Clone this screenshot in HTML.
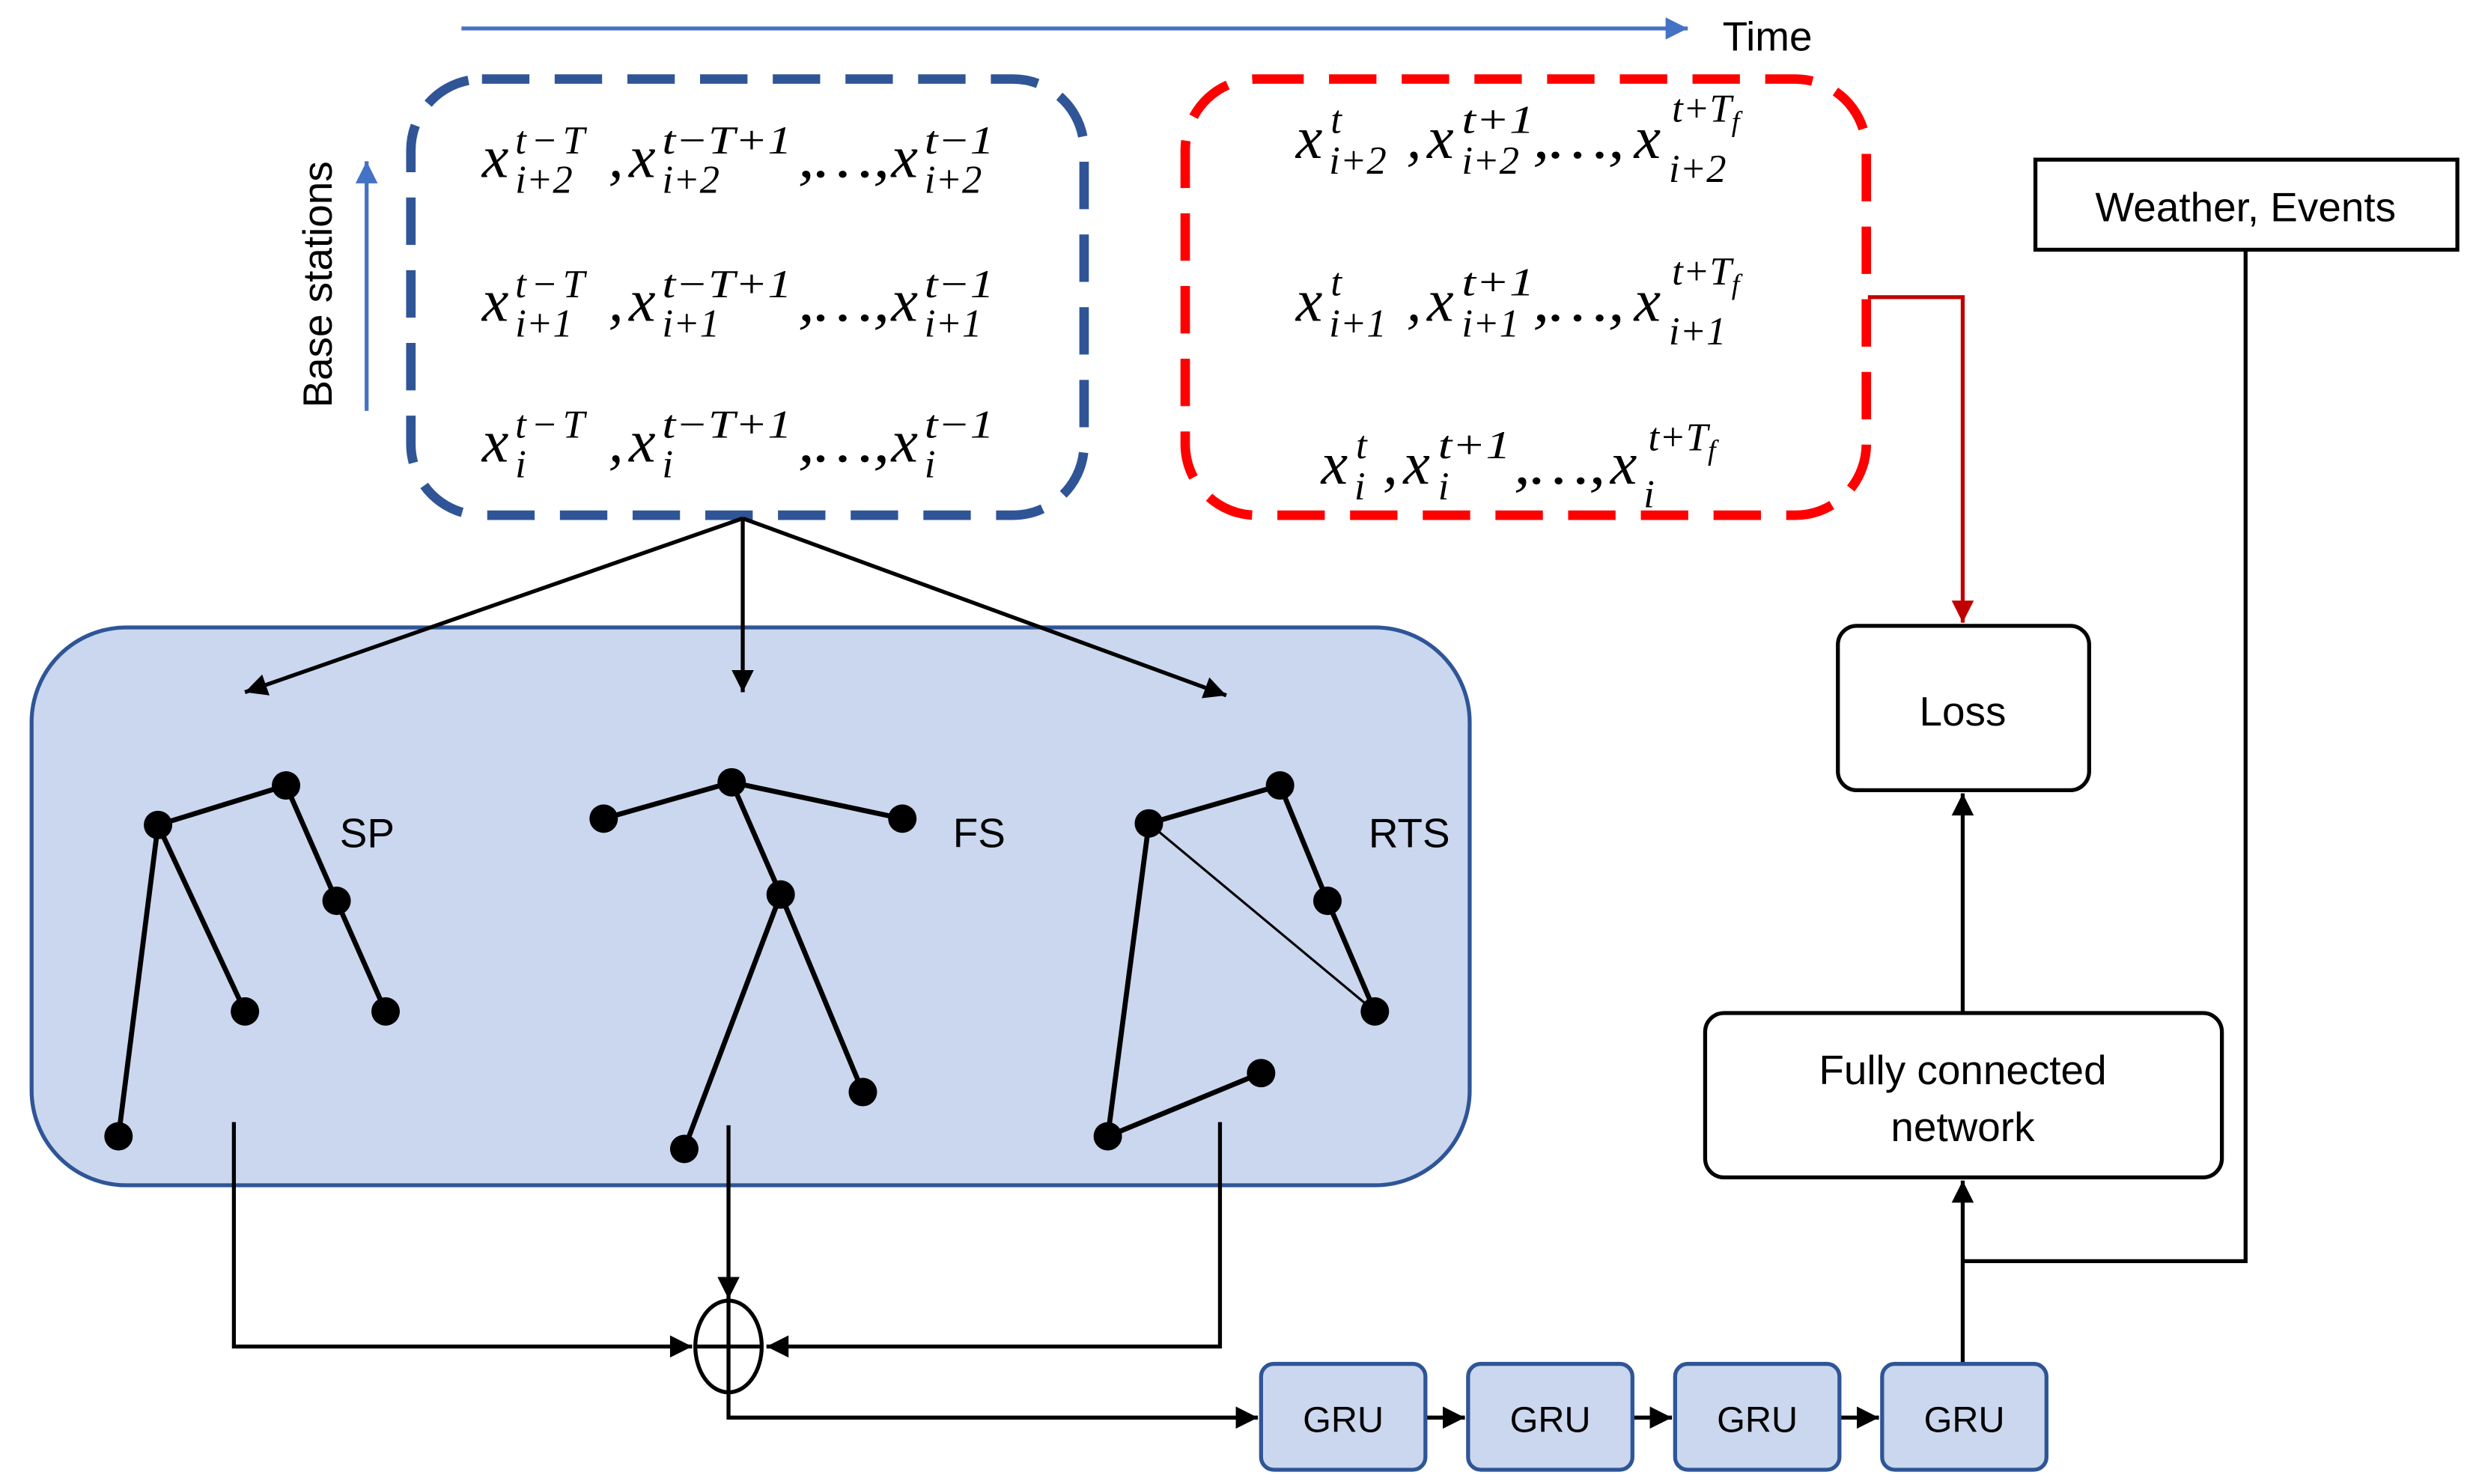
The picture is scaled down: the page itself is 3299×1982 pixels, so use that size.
<!DOCTYPE html>
<html><head><meta charset="utf-8"><style>
html,body{margin:0;padding:0;background:#fff;}
svg{display:block;}
.m{font-family:"Liberation Serif",serif;font-style:italic;fill:#000;}
.s{font-family:"Liberation Sans",sans-serif;fill:#000;}
</style></head><body>
<svg width="3299" height="1982" viewBox="0 0 1563 939" xmlns="http://www.w3.org/2000/svg">
<defs>
<marker id="ak" viewBox="0 0 10 10" markerWidth="16" markerHeight="14" refX="10" refY="5" orient="auto" markerUnits="userSpaceOnUse"><path d="M0,0 L10,5 L0,10 z" fill="#000"/></marker>
<marker id="abl" viewBox="0 0 10 10" markerWidth="18" markerHeight="14" refX="10" refY="5" orient="auto" markerUnits="userSpaceOnUse"><path d="M0,0 L10,5 L0,10 z" fill="#4472c4"/></marker>
<marker id="ar" viewBox="0 0 10 10" markerWidth="16" markerHeight="14" refX="10" refY="5" orient="auto" markerUnits="userSpaceOnUse"><path d="M0,0 L10,5 L0,10 z" fill="#c00000"/></marker>
</defs>

<line x1="292" y1="18" x2="1068" y2="18" stroke="#4472c4" stroke-width="2.5" marker-end="url(#abl)"/>
<text x="1090" y="32" class="s" font-size="26">Time</text>

<line x1="232" y1="260" x2="232" y2="102" stroke="#4472c4" stroke-width="2.5" marker-end="url(#abl)"/>
<text transform="translate(210,180) rotate(-90)" text-anchor="middle" class="s" font-size="26">Base stations</text>

<rect x="260" y="50" width="426" height="276" rx="45" fill="none" stroke="#2f5597" stroke-width="6" stroke-dasharray="30,16"/>
<rect x="750" y="50" width="431" height="276" rx="45" fill="none" stroke="#ff0000" stroke-width="6" stroke-dasharray="30,16"/>

<g class="m" font-size="38">
 <g>
  <text x="305" y="112">x</text><text x="326" y="97" font-size="25" textLength="44">t−T</text><text x="326" y="122" font-size="25">i+2</text>
  <text x="385" y="112">,</text>
  <text x="398" y="112">x</text><text x="419" y="97" font-size="25" textLength="82" lengthAdjust="spacingAndGlyphs">t−T+1</text><text x="419" y="122" font-size="25">i+2</text>
  <text x="505" y="112" textLength="58" lengthAdjust="spacingAndGlyphs">,…,</text>
  <text x="564" y="112">x</text><text x="585" y="97" font-size="25" textLength="44" lengthAdjust="spacingAndGlyphs">t−1</text><text x="585" y="122" font-size="25">i+2</text>
 </g>
 <g>
  <text x="305" y="203">x</text><text x="326" y="188" font-size="25" textLength="44">t−T</text><text x="326" y="213" font-size="25">i+1</text>
  <text x="385" y="203">,</text>
  <text x="398" y="203">x</text><text x="419" y="188" font-size="25" textLength="82" lengthAdjust="spacingAndGlyphs">t−T+1</text><text x="419" y="213" font-size="25">i+1</text>
  <text x="505" y="203" textLength="58" lengthAdjust="spacingAndGlyphs">,…,</text>
  <text x="564" y="203">x</text><text x="585" y="188" font-size="25" textLength="44" lengthAdjust="spacingAndGlyphs">t−1</text><text x="585" y="213" font-size="25">i+1</text>
 </g>
 <g>
  <text x="305" y="292">x</text><text x="326" y="277" font-size="25" textLength="44">t−T</text><text x="326" y="302" font-size="25">i</text>
  <text x="385" y="292">,</text>
  <text x="398" y="292">x</text><text x="419" y="277" font-size="25" textLength="82" lengthAdjust="spacingAndGlyphs">t−T+1</text><text x="419" y="302" font-size="25">i</text>
  <text x="505" y="292" textLength="58" lengthAdjust="spacingAndGlyphs">,…,</text>
  <text x="564" y="292">x</text><text x="585" y="277" font-size="25" textLength="44" lengthAdjust="spacingAndGlyphs">t−1</text><text x="585" y="302" font-size="25">i</text>
 </g>
</g>

<g class="m" font-size="38">
 <g>
  <text x="820" y="100">x</text><text x="842" y="84" font-size="25">t</text><text x="841" y="110" font-size="25">i+2</text>
  <text x="890" y="100">,</text>
  <text x="903" y="100">x</text><text x="925" y="84" font-size="25" textLength="46" lengthAdjust="spacingAndGlyphs">t+1</text><text x="925" y="110" font-size="25">i+2</text>
  <text x="970" y="100" textLength="58" lengthAdjust="spacingAndGlyphs">,…,</text>
  <text x="1034" y="100">x</text><text x="1058" y="77" font-size="25">t+T<tspan font-size="18" dy="6">f</tspan></text><text x="1056" y="115" font-size="25">i+2</text>
 </g>
 <g>
  <text x="820" y="203">x</text><text x="842" y="187" font-size="25">t</text><text x="841" y="213" font-size="25">i+1</text>
  <text x="890" y="203">,</text>
  <text x="903" y="203">x</text><text x="925" y="187" font-size="25" textLength="46" lengthAdjust="spacingAndGlyphs">t+1</text><text x="925" y="213" font-size="25">i+1</text>
  <text x="970" y="203" textLength="58" lengthAdjust="spacingAndGlyphs">,…,</text>
  <text x="1034" y="203">x</text><text x="1058" y="180" font-size="25">t+T<tspan font-size="18" dy="6">f</tspan></text><text x="1056" y="218" font-size="25">i+1</text>
 </g>
 <g>
  <text x="836" y="306">x</text><text x="858" y="290" font-size="25">t</text><text x="857" y="316" font-size="25">i</text>
  <text x="875" y="306">,</text>
  <text x="888" y="306">x</text><text x="910" y="290" font-size="25" textLength="46" lengthAdjust="spacingAndGlyphs">t+1</text><text x="910" y="316" font-size="25">i</text>
  <text x="958" y="306" textLength="58" lengthAdjust="spacingAndGlyphs">,…,</text>
  <text x="1019" y="306">x</text><text x="1043" y="285" font-size="25">t+T<tspan font-size="18" dy="6">f</tspan></text><text x="1040" y="321" font-size="25">i</text>
 </g>
</g>

<rect x="1288" y="101" width="267" height="57" fill="#fff" stroke="#000" stroke-width="2.5"/>
<text x="1421" y="140" text-anchor="middle" class="s" font-size="26">Weather, Events</text>

<polyline points="1182,188 1242,188 1242,394" fill="none" stroke="#c00000" stroke-width="2.5" marker-end="url(#ar)"/>

<rect x="1163" y="396" width="159" height="104" rx="12" fill="#fff" stroke="#000" stroke-width="2.5"/>
<text x="1242" y="459" text-anchor="middle" class="s" font-size="26">Loss</text>
<line x1="1242" y1="641" x2="1242" y2="502" stroke="#000" stroke-width="2.5" marker-end="url(#ak)"/>

<rect x="1079" y="641" width="327" height="104" rx="12" fill="#fff" stroke="#000" stroke-width="2.5"/>
<text x="1242" y="686" text-anchor="middle" class="s" font-size="26">Fully connected</text>
<text x="1242" y="722" text-anchor="middle" class="s" font-size="26">network</text>
<line x1="1242" y1="863" x2="1242" y2="747" stroke="#000" stroke-width="2.5" marker-end="url(#ak)"/>
<polyline points="1421,158 1421,798 1242,798" fill="none" stroke="#000" stroke-width="2.5"/>

<rect x="20" y="397" width="910" height="353" rx="60" fill="#cad7ee" stroke="#2f5597" stroke-width="2.5"/>

<g stroke="#000" stroke-width="2.5" fill="none">
<line x1="470" y1="328" x2="155" y2="438" marker-end="url(#ak)"/>
<line x1="470" y1="328" x2="470" y2="438" marker-end="url(#ak)"/>
<line x1="470" y1="328" x2="776" y2="440" marker-end="url(#ak)"/>
</g>

<g stroke="#000" stroke-width="3.2">
<line x1="100" y1="522" x2="181" y2="497"/><line x1="181" y1="497" x2="213" y2="570"/><line x1="213" y1="570" x2="244" y2="640"/><line x1="100" y1="522" x2="155" y2="640"/><line x1="100" y1="522" x2="75" y2="719"/>
<line x1="382" y1="518" x2="463" y2="495"/><line x1="463" y1="495" x2="571" y2="518"/><line x1="463" y1="495" x2="494" y2="566"/><line x1="494" y1="566" x2="546" y2="691"/><line x1="494" y1="566" x2="433" y2="727"/>
<line x1="727" y1="521" x2="810" y2="497"/><line x1="810" y1="497" x2="840" y2="570"/><line x1="840" y1="570" x2="870" y2="640"/><line x1="727" y1="521" x2="870" y2="640" stroke-width="1.5"/><line x1="727" y1="521" x2="701" y2="719"/><line x1="701" y1="719" x2="798" y2="679"/>
</g>
<g fill="#000">
<circle cx="100" cy="522" r="9"/><circle cx="181" cy="497" r="9"/><circle cx="213" cy="570" r="9"/><circle cx="244" cy="640" r="9"/><circle cx="155" cy="640" r="9"/><circle cx="75" cy="719" r="9"/>
<circle cx="382" cy="518" r="9"/><circle cx="463" cy="495" r="9"/><circle cx="571" cy="518" r="9"/><circle cx="494" cy="566" r="9"/><circle cx="546" cy="691" r="9"/><circle cx="433" cy="727" r="9"/>
<circle cx="727" cy="521" r="9"/><circle cx="810" cy="497" r="9"/><circle cx="840" cy="570" r="9"/><circle cx="870" cy="640" r="9"/><circle cx="798" cy="679" r="9"/><circle cx="701" cy="719" r="9"/>
</g>
<text x="215" y="536" class="s" font-size="26">SP</text>
<text x="603" y="536" class="s" font-size="26">FS</text>
<text x="866" y="536" class="s" font-size="26">RTS</text>

<g stroke="#000" stroke-width="2.5" fill="none">
<polyline points="148,710 148,852 438,852" marker-end="url(#ak)"/>
<polyline points="461,712 461,822" marker-end="url(#ak)"/>
<polyline points="772,710 772,852 485,852" marker-end="url(#ak)"/>
<ellipse cx="461" cy="852" rx="21" ry="29"/>
<line x1="461" y1="823" x2="461" y2="881"/>
<line x1="440" y1="852" x2="482" y2="852"/>
<polyline points="461,881 461,897 796,897" marker-end="url(#ak)"/>
<line x1="902" y1="897" x2="927" y2="897" marker-end="url(#ak)"/>
<line x1="1033" y1="897" x2="1058" y2="897" marker-end="url(#ak)"/>
<line x1="1164" y1="897" x2="1189" y2="897" marker-end="url(#ak)"/>
</g>

<g fill="#cad7ee" stroke="#2f5597" stroke-width="2.5">
<rect x="798" y="863" width="104" height="67" rx="8"/>
<rect x="929" y="863" width="104" height="67" rx="8"/>
<rect x="1060" y="863" width="104" height="67" rx="8"/>
<rect x="1191" y="863" width="104" height="67" rx="8"/>
</g>
<g class="s" font-size="23" text-anchor="middle">
<text x="850" y="906">GRU</text><text x="981" y="906">GRU</text><text x="1112" y="906">GRU</text><text x="1243" y="906">GRU</text>
</g>
</svg>
</body></html>
